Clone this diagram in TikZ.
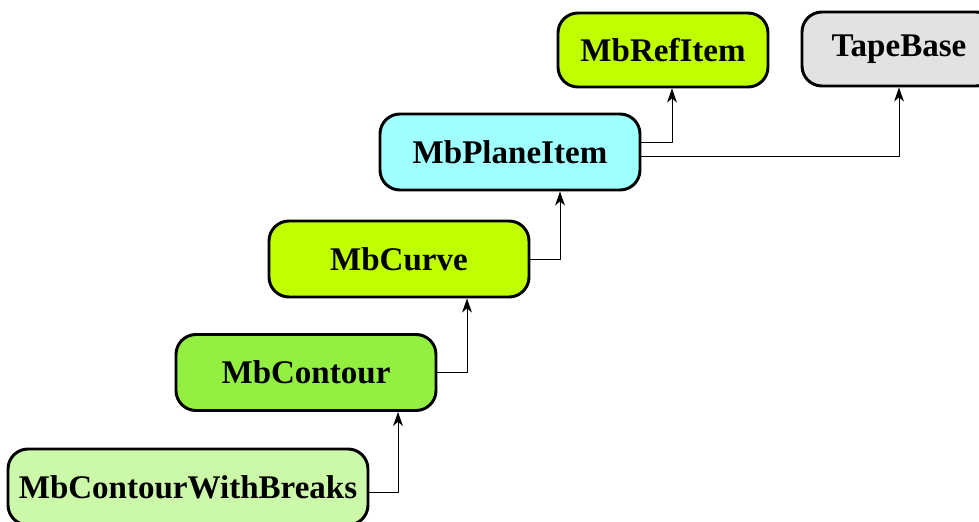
\documentclass[tikz,border=0pt]{standalone}
\usepackage{fontspec}
\setmainfont{Liberation Serif}
\usetikzlibrary{arrows.meta,positioning}
\definecolor{fg}{RGB}{0,0,0}
\definecolor{lime}{RGB}{192,255,0}
\definecolor{sky}{RGB}{160,255,255}
\definecolor{grass}{RGB}{148,240,64}
\definecolor{pale}{RGB}{204,248,170}
\definecolor{stone}{RGB}{224,226,228}
\tikzset{
  every picture/.style={fg, line width=0.8pt, line join=round,
    >={Stealth[length=10pt,width=7pt,inset=3pt]}},
  % Klassen
  cls/.style={draw, line width=2.1pt, rounded corners=0.5cm, fill=#1,
    minimum height=1.9cm, inner sep=0pt,
    font=\bfseries\fontsize{23.5}{28}\selectfont},
  cls/.default=lime,
  % Vererbung
  inh/.style={line width=0.7pt, ->},
}
\begin{document}
\begin{tikzpicture}
  \useasboundingbox (0,0) rectangle (24.475,-13.05);
  % Klassen
  \node[cls=lime, minimum width=5.25cm, minimum height=1.85cm] (ref) at (16.575,-1.25) {MbRefItem};
  \node[cls=stone, minimum width=4.85cm, minimum height=1.85cm] (tape) at (22.475,-1.225) {TapeBase};
  \node[cls=sky, minimum width=6.5cm] (plane) at (12.75,-3.8) {MbPlaneItem};
  \node[cls=lime, minimum width=6.5cm] (curve) at (9.975,-6.475) {MbCurve};
  \node[cls=grass, minimum width=6.5cm] (contour) at (7.65,-9.3125) {MbContour};
  \node[cls=pale, minimum width=9cm] (breaks) at (4.7,-12.175) {MbContourWithBreaks};
  % Verbindungen
  \draw[inh] ([yshift=-0.125cm]breaks.east) -| ([xshift=2.3cm]contour.south);
  \draw[inh] (contour.east) -| ([xshift=1.7cm]curve.south);
  \draw[inh] (curve.east) -| ([xshift=1.25cm]plane.south);
  \draw[inh] ([yshift=0.23cm]plane.east) -| ([xshift=0.225cm]ref.south);
  \draw[inh] ([yshift=-0.1cm]plane.east) -| (tape.south);
\end{tikzpicture}
\end{document}
